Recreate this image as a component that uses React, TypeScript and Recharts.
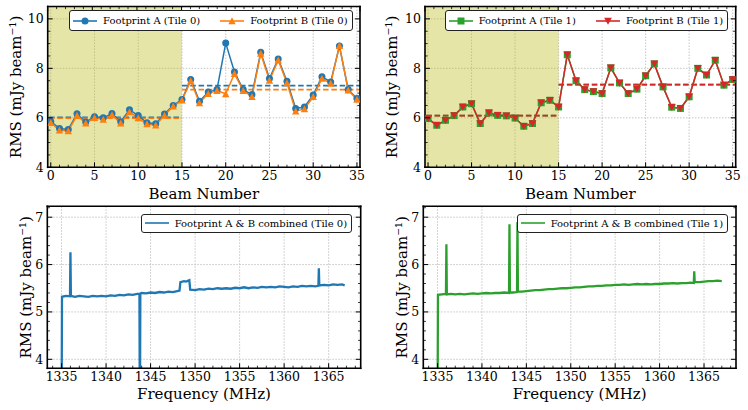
import React from "react";
import { LineChart, Line, XAxis, YAxis, CartesianGrid, ReferenceArea, ReferenceLine, Legend } from "recharts";

// ---- beam panels (top) ----
const beams = [0, 1, 2, 3, 4, 5, 6, 7, 8, 9, 10, 11, 12, 13, 14, 15, 16, 17, 18, 19, 20, 21, 22, 23, 24, 25, 26, 27, 28, 29, 30, 31, 32, 33, 34, 35];
const footprintATile0 = [5.85, 5.57, 5.53, 6.16, 5.83, 6.04, 6.0, 6.17, 5.84, 6.33, 6.09, 5.8, 5.76, 6.15, 6.5, 6.74, 7.55, 6.67, 7.04, 7.14, 9.02, 7.85, 7.14, 6.94, 8.65, 7.59, 8.38, 7.48, 6.38, 6.44, 6.92, 7.66, 7.45, 8.9, 7.14, 6.78];
const footprintBTile0 = [5.8, 5.5, 5.47, 6.1, 5.78, 6.0, 5.93, 6.12, 5.78, 6.24, 5.99, 5.75, 5.7, 6.1, 6.47, 6.71, 7.49, 6.6, 6.98, 7.1, 6.97, 7.78, 7.1, 6.85, 8.6, 7.51, 8.33, 7.41, 6.27, 6.36, 6.85, 7.59, 7.39, 8.92, 7.12, 6.74];
const footprintATile1 = [5.97, 5.7, 5.9, 6.09, 6.44, 6.57, 5.77, 6.2, 6.1, 6.08, 5.99, 5.66, 5.77, 6.61, 6.71, 6.44, 8.55, 7.5, 7.14, 7.06, 6.98, 8.02, 7.41, 6.98, 7.16, 7.7, 8.18, 7.25, 6.43, 6.38, 6.85, 8.0, 7.73, 8.33, 7.32, 7.55];
const footprintBTile1 = [5.97, 5.7, 5.9, 6.09, 6.44, 6.57, 5.77, 6.2, 6.1, 6.08, 5.99, 5.66, 5.77, 6.61, 6.71, 6.44, 8.55, 7.5, 7.14, 7.06, 6.98, 8.02, 7.41, 6.98, 7.16, 7.7, 8.18, 7.25, 6.43, 6.38, 6.85, 8.0, 7.73, 8.33, 7.32, 7.55];
// mean of beams 0-15 and 16-35
const meanATile0 = [6.02, 7.3];
const meanBTile0 = [5.98, 7.14];
const meanATile1 = [6.09, 7.34];
const meanBTile1 = [6.09, 7.34];

const beamMajorTicks = [0, 5, 10, 15, 20, 25, 30, 35];
const beamMinorTicks = beams;
const rmsMajorTicks = [4, 6, 8, 10];
const rmsMinorTicks = [4, 4.5, 5, 5.5, 6, 6.5, 7, 7.5, 8, 8.5, 9, 9.5, 10];

// ---- spectrum panels (bottom) ----
const tile0Freq = [1335.0, 1335.05, 1335.5, 1335.95, 1336.0, 1336.05, 1336.5, 1337.0, 1337.5, 1338.0, 1338.5, 1339.0, 1339.5, 1340.0, 1340.5, 1341.0, 1341.5, 1342.0, 1342.5, 1343.0, 1343.5, 1343.75, 1343.8, 1343.85, 1344.0, 1344.5, 1345.0, 1345.5, 1346.0, 1346.5, 1347.0, 1347.5, 1348.0, 1348.25, 1348.35, 1348.75, 1349.0, 1349.35, 1349.45, 1350.0, 1350.5, 1351.0, 1351.5, 1352.0, 1352.5, 1353.0, 1353.5, 1354.0, 1354.5, 1355.0, 1355.5, 1356.0, 1356.5, 1357.0, 1357.5, 1358.0, 1358.5, 1359.0, 1359.5, 1360.0, 1360.5, 1361.0, 1361.5, 1362.0, 1362.5, 1363.0, 1363.5, 1363.85, 1363.9, 1363.95, 1364.5, 1365.0, 1365.5, 1366.0, 1366.5, 1366.8];
const tile0Rms = [2.5, 5.32, 5.34, 5.33, 6.26, 5.34, 5.32, 5.34, 5.33, 5.32, 5.34, 5.33, 5.34, 5.33, 5.35, 5.34, 5.36, 5.35, 5.37, 5.36, 5.38, 5.38, 2.5, 5.39, 5.4, 5.39, 5.41, 5.4, 5.42, 5.41, 5.43, 5.42, 5.44, 5.45, 5.63, 5.65, 5.64, 5.67, 5.47, 5.46, 5.48, 5.47, 5.49, 5.48, 5.5, 5.49, 5.5, 5.49, 5.51, 5.5, 5.52, 5.5, 5.52, 5.51, 5.53, 5.52, 5.53, 5.52, 5.54, 5.53, 5.52, 5.54, 5.53, 5.55, 5.54, 5.55, 5.54, 5.55, 5.92, 5.56, 5.57, 5.56, 5.58, 5.57, 5.58, 5.56];
const tile1Freq = [1335.0, 1335.05, 1335.5, 1335.95, 1336.0, 1336.05, 1336.5, 1337.0, 1337.5, 1338.0, 1338.5, 1339.0, 1339.5, 1340.0, 1340.5, 1341.0, 1341.5, 1342.0, 1342.5, 1343.05, 1343.1, 1343.15, 1343.5, 1343.95, 1344.0, 1344.05, 1344.5, 1345.0, 1345.5, 1346.0, 1346.5, 1347.0, 1347.5, 1348.0, 1348.5, 1349.0, 1349.5, 1350.0, 1350.5, 1351.0, 1351.5, 1352.0, 1352.5, 1353.0, 1353.5, 1354.0, 1354.5, 1355.0, 1355.5, 1356.0, 1356.5, 1357.0, 1357.5, 1358.0, 1358.5, 1359.0, 1359.5, 1360.0, 1360.5, 1361.0, 1361.5, 1362.0, 1362.5, 1363.0, 1363.5, 1363.85, 1363.9, 1363.95, 1364.5, 1365.0, 1365.5, 1366.0, 1366.5, 1367.0];
const tile1Rms = [2.5, 5.36, 5.37, 5.38, 6.43, 5.37, 5.38, 5.37, 5.38, 5.37, 5.38, 5.39, 5.38, 5.39, 5.4, 5.39, 5.4, 5.4, 5.41, 5.4, 6.85, 5.41, 5.41, 5.42, 6.9, 5.43, 5.43, 5.44, 5.45, 5.46, 5.46, 5.47, 5.48, 5.48, 5.49, 5.5, 5.5, 5.51, 5.52, 5.52, 5.53, 5.54, 5.54, 5.55, 5.55, 5.56, 5.56, 5.57, 5.57, 5.58, 5.57, 5.58, 5.59, 5.58, 5.59, 5.58, 5.59, 5.59, 5.6, 5.6, 5.61, 5.6, 5.61, 5.61, 5.62, 5.61, 5.86, 5.63, 5.63, 5.64, 5.65, 5.65, 5.66, 5.65];

const freqMajorTicks = [1335, 1340, 1345, 1350, 1355, 1360, 1365];
const freqMinorTicks = [1334, 1335, 1336, 1337, 1338, 1339, 1340, 1341, 1342, 1343, 1344, 1345, 1346, 1347, 1348, 1349, 1350, 1351, 1352, 1353, 1354, 1355, 1356, 1357, 1358, 1359, 1360, 1361, 1362, 1363, 1364, 1365, 1366, 1367, 1368];
const specMajorTicks = [4, 5, 6, 7];
const specMinorTicks = [4, 4.2, 4.4, 4.6, 4.8, 5, 5.2, 5.4, 5.6, 5.8, 6, 6.2, 6.4, 6.6, 6.8, 7, 7.2];

const FONT = "'DejaVu Serif', serif";
const Y_TITLE = "RMS (mJy beam\u207B\u00B9)";
const BLUE = "#1f77b4";
const ORANGE = "#ff7f0e";
const GREEN = "#2ca02c";
const RED = "#d62728";

type Marker = (cx: number, cy: number, color: string, key?: any) => React.ReactElement;
const circle: Marker = (cx, cy, c, key) => <circle key={key} cx={cx} cy={cy} r={3.5} fill={c} />;
const triUp: Marker = (cx, cy, c, key) => (
  <path key={key} d={`M${cx},${cy - 3.7}L${cx + 3.7},${cy + 3.3}L${cx - 3.7},${cy + 3.3}Z`} fill={c} />
);
const triDown: Marker = (cx, cy, c, key) => (
  <path key={key} d={`M${cx},${cy + 3.7}L${cx + 3.9},${cy - 3.3}L${cx - 3.9},${cy - 3.3}Z`} fill={c} />
);
const square: Marker = (cx, cy, c, key) => <rect key={key} x={cx - 3.5} y={cy - 3.5} width={7} height={7} fill={c} />;

const dotOf = (m: Marker, color: string) => (p: any) => m(p.cx, p.cy, color, p.index);

type Side = "bottom" | "top" | "left" | "right";
const makeTick = (side: Side, majors: number[], showLabel: boolean, labelGap: number) => (p: any) => {
  const { x, y, payload } = p;
  const v = payload.value;
  const major = majors.includes(v);
  const len = major ? 5 : 2.6;
  let line;
  if (side === "bottom") line = <line x1={x} x2={x} y1={y} y2={y - len} />;
  else if (side === "top") line = <line x1={x} x2={x} y1={y} y2={y + len} />;
  else if (side === "left") line = <line x1={x} x2={x + len} y1={y} y2={y} />;
  else line = <line x1={x} x2={x - len} y1={y} y2={y} />;
  return (
    <g stroke="#000" strokeWidth={major ? 1 : 0.8}>
      {line}
      {showLabel && major && side === "bottom" && (
        <text x={x} y={y + labelGap} textAnchor="middle" stroke="none" fill="#000" fontFamily={FONT} fontSize={12.5}>
          {v}
        </text>
      )}
      {showLabel && major && side === "left" && (
        <text x={x - labelGap} y={y} dy="0.36em" textAnchor="end" stroke="none" fill="#000" fontFamily={FONT} fontSize={12.5}>
          {v}
        </text>
      )}
    </g>
  );
};

// axis titles, placed relative to the plot edge reported by the axis
const xTitle = (text: string, dy: number) => (p: any) => {
  const vb = p.viewBox;
  return (
    <text x={vb.x + vb.width / 2} y={vb.y + dy} textAnchor="middle" fill="#000" fontFamily={FONT} fontSize={15}>
      {text}
    </text>
  );
};

const yTitle = (dx: number) => (p: any) => {
  const vb = p.viewBox;
  const cx = vb.x + vb.width - dx;
  const cy = vb.y + vb.height / 2;
  return (
    <text x={cx} y={cy} transform={`rotate(-90 ${cx} ${cy})`} textAnchor="middle" dy="0.36em" fill="#000" fontFamily={FONT} fontSize={15}>
      {Y_TITLE}
    </text>
  );
};

interface LegendEntry {
  label: string;
  color: string;
  marker?: Marker;
}

function LegendBox({ entries, height }: { entries: LegendEntry[]; height: number }) {
  return (
    <div
      style={{
        display: "inline-flex",
        alignItems: "center",
        boxSizing: "border-box",
        height,
        padding: "0 4px 0 3px",
        background: "#fff",
        border: "1px solid #222",
        borderRadius: 3,
        fontFamily: FONT,
        fontSize: 10,
        color: "#000",
        whiteSpace: "nowrap",
      }}
    >
      {entries.map((e, i) => (
        <div key={e.label} style={{ display: "flex", alignItems: "center", marginLeft: i ? 20 : 0 }}>
          <svg width={24} height={10} style={{ display: "block" }}>
            <line x1={0} x2={24} y1={5} y2={5} stroke={e.color} strokeWidth={1.6} />
            {e.marker && e.marker(12, 5, e.color)}
          </svg>
          <span style={{ marginLeft: 6 }}>{e.label}</span>
        </div>
      ))}
    </div>
  );
}

const spine = { stroke: "#000", strokeWidth: 1.6, strokeLinecap: "square" as const };
// every axis gets 1px of size (recharts skips a 0-sized axis), margins below are reduced by it
const AX = 1;

interface BeamPanelProps {
  a: number[];
  b: number[];
  meanA: number[];
  meanB: number[];
  colorA: string;
  colorB: string;
  markerA: Marker;
  markerB: Marker;
  labelA: string;
  labelB: string;
  margin: { top: number; right: number; bottom: number; left: number };
  titleDx: number;
  legendLeft: number;
}

function BeamPanel(props: BeamPanelProps) {
  const { a, b, meanA, meanB, colorA, colorB, markerA, markerB, margin } = props;
  const rows = beams.map((beam, i) => ({ beam, a: a[i], b: b[i] }));
  const xDomain = [-0.35, 35.35];
  const yDomain = [4, 10.5];
  const m = { top: margin.top - AX, right: margin.right - AX, bottom: margin.bottom - AX, left: margin.left - AX };
  return (
    <LineChart width={374} height={208} data={rows} margin={m}>
      <XAxis xAxisId="g" type="number" dataKey="beam" domain={xDomain} ticks={beamMajorTicks} allowDataOverflow hide />
      <YAxis yAxisId="g" type="number" domain={yDomain} ticks={rmsMajorTicks} allowDataOverflow hide />
      <CartesianGrid xAxisId="g" yAxisId="g" stroke="#b8b8b8" strokeDasharray="1.5 1.5" strokeWidth={0.8} />
      <ReferenceArea x1={-0.35} x2={15} y1={4} y2={10.5} fill="#bcbd22" fillOpacity={0.4} stroke="none" />
      <XAxis
        dataKey="beam"
        type="number"
        domain={xDomain}
        allowDataOverflow
        ticks={beamMinorTicks}
        interval={0}
        height={AX}
        tickSize={0}
        tickMargin={0}
        tickLine={false}
        axisLine={spine}
        tick={makeTick("bottom", beamMajorTicks, true, 12.5)}
        label={xTitle("Beam Number", 31.5)}
      />
      <XAxis
        xAxisId="top"
        orientation="top"
        type="number"
        domain={xDomain}
        allowDataOverflow
        ticks={beamMinorTicks}
        interval={0}
        height={AX}
        tickSize={0}
        tickMargin={0}
        tickLine={false}
        axisLine={spine}
        tick={makeTick("top", beamMajorTicks, false, 0)}
      />
      <YAxis
        type="number"
        domain={yDomain}
        allowDataOverflow
        ticks={rmsMinorTicks}
        interval={0}
        width={AX}
        tickSize={0}
        tickMargin={0}
        tickLine={false}
        axisLine={spine}
        tick={makeTick("left", rmsMajorTicks, true, 4)}
        label={yTitle(props.titleDx)}
      />
      <YAxis
        yAxisId="right"
        orientation="right"
        type="number"
        domain={yDomain}
        allowDataOverflow
        ticks={rmsMinorTicks}
        interval={0}
        width={AX}
        tickSize={0}
        tickMargin={0}
        tickLine={false}
        axisLine={spine}
        tick={makeTick("right", rmsMajorTicks, false, 0)}
      />
      <ReferenceLine segment={[{ x: -0.2, y: meanA[0] }, { x: 15, y: meanA[0] }]} stroke={colorA} strokeWidth={1.6} strokeDasharray="5.5 2.8" />
      <ReferenceLine segment={[{ x: -0.2, y: meanB[0] }, { x: 15, y: meanB[0] }]} stroke={colorB} strokeWidth={1.6} strokeDasharray="5.5 2.8" />
      <ReferenceLine segment={[{ x: 15, y: meanA[1] }, { x: 35.35, y: meanA[1] }]} stroke={colorA} strokeWidth={1.6} strokeDasharray="5.5 2.8" />
      <ReferenceLine segment={[{ x: 15, y: meanB[1] }, { x: 35.35, y: meanB[1] }]} stroke={colorB} strokeWidth={1.6} strokeDasharray="5.5 2.8" />
      <Line dataKey="a" stroke={colorA} strokeWidth={1.5} dot={dotOf(markerA, colorA)} activeDot={false} isAnimationActive={false} />
      <Line dataKey="b" stroke={colorB} strokeWidth={1.5} dot={dotOf(markerB, colorB)} activeDot={false} isAnimationActive={false} />
      <Legend
        layout="horizontal"
        verticalAlign="middle"
        align="center"
        wrapperStyle={{ left: props.legendLeft, top: 10, width: "auto", height: "auto" }}
        content={() => (
          <LegendBox
            height={21}
            entries={[
              { label: props.labelA, color: colorA, marker: markerA },
              { label: props.labelB, color: colorB, marker: markerB },
            ]}
          />
        )}
      />
    </LineChart>
  );
}

interface SpecPanelProps {
  freq: number[];
  rms: number[];
  color: string;
  label: string;
  margin: { top: number; right: number; bottom: number; left: number };
  legendLeft: number;
}

function SpecPanel(props: SpecPanelProps) {
  const { freq, rms, color, margin } = props;
  const rows = freq.map((f, i) => ({ freq: f, rms: rms[i] }));
  const xDomain = [1333.4, 1368.6];
  const yDomain = [3.81, 7.23];
  const m = { top: margin.top - AX, right: margin.right - AX, bottom: margin.bottom - AX, left: margin.left - AX };
  return (
    <LineChart width={374} height={210} data={rows} margin={m}>
      <XAxis xAxisId="g" type="number" dataKey="freq" domain={xDomain} ticks={freqMajorTicks} allowDataOverflow hide />
      <YAxis yAxisId="g" type="number" domain={yDomain} ticks={specMajorTicks} allowDataOverflow hide />
      <CartesianGrid xAxisId="g" yAxisId="g" stroke="#b8b8b8" strokeDasharray="1.5 1.5" strokeWidth={0.8} />
      <XAxis
        dataKey="freq"
        type="number"
        domain={xDomain}
        allowDataOverflow
        ticks={freqMinorTicks}
        interval={0}
        height={AX}
        tickSize={0}
        tickMargin={0}
        tickLine={false}
        axisLine={spine}
        tick={makeTick("bottom", freqMajorTicks, true, 13)}
        label={xTitle("Frequency (MHz)", 30.7)}
      />
      <XAxis
        xAxisId="top"
        orientation="top"
        type="number"
        domain={xDomain}
        allowDataOverflow
        ticks={freqMinorTicks}
        interval={0}
        height={AX}
        tickSize={0}
        tickMargin={0}
        tickLine={false}
        axisLine={spine}
        tick={makeTick("top", freqMajorTicks, false, 0)}
      />
      <YAxis
        type="number"
        domain={yDomain}
        allowDataOverflow
        ticks={specMinorTicks}
        interval={0}
        width={AX}
        tickSize={0}
        tickMargin={0}
        tickLine={false}
        axisLine={spine}
        tick={makeTick("left", specMajorTicks, true, 4)}
        label={yTitle(22)}
      />
      <YAxis
        yAxisId="right"
        orientation="right"
        type="number"
        domain={yDomain}
        allowDataOverflow
        ticks={specMinorTicks}
        interval={0}
        width={AX}
        tickSize={0}
        tickMargin={0}
        tickLine={false}
        axisLine={spine}
        tick={makeTick("right", specMajorTicks, false, 0)}
      />
      <Line dataKey="rms" stroke={color} strokeWidth={2.3} dot={false} activeDot={false} isAnimationActive={false} />
      <Legend
        layout="horizontal"
        verticalAlign="middle"
        align="center"
        wrapperStyle={{ left: props.legendLeft, top: 13.3, width: "auto", height: "auto" }}
        content={() => <LegendBox height={18.5} entries={[{ label: props.label, color }]} />}
      />
    </LineChart>
  );
}

export default function App() {
  return (
    <div style={{ position: "relative", width: 748, height: 410, background: "#fff", fontFamily: FONT }}>
      <style>{"body{margin:0}"}</style>
      <div style={{ position: "absolute", left: 0, top: 200 }}>
        <SpecPanel
          freq={tile0Freq}
          rms={tile0Rms}
          color={BLUE}
          label="Footprint A & B combined (Tile 0)"
          margin={{ top: 6.3, right: 13.3, bottom: 41.7, left: 47.3 }}
          legendLeft={140.7}
        />
      </div>
      <div style={{ position: "absolute", left: 374, top: 200 }}>
        <SpecPanel
          freq={tile1Freq}
          rms={tile1Rms}
          color={GREEN}
          label="Footprint A & B combined (Tile 1)"
          margin={{ top: 6.3, right: 12, bottom: 41.7, left: 49.3 }}
          legendLeft={142.7}
        />
      </div>
      <div style={{ position: "absolute", left: 0, top: 0 }}>
        <BeamPanel
          a={footprintATile0}
          b={footprintBTile0}
          meanA={meanATile0}
          meanB={meanBTile0}
          colorA={BLUE}
          colorB={ORANGE}
          markerA={circle}
          markerB={triUp}
          labelA="Footprint A (Tile 0)"
          labelB="Footprint B (Tile 0)"
          margin={{ top: 6.5, right: 14, bottom: 40.7, left: 47.7 }}
          titleDx={32.2}
          legendLeft={69}
        />
      </div>
      <div style={{ position: "absolute", left: 374, top: 0 }}>
        <BeamPanel
          a={footprintATile1}
          b={footprintBTile1}
          meanA={meanATile1}
          meanB={meanBTile1}
          colorA={GREEN}
          colorB={RED}
          markerA={square}
          markerB={triDown}
          labelA="Footprint A (Tile 1)"
          labelB="Footprint B (Tile 1)"
          margin={{ top: 6.5, right: 12.3, bottom: 40.7, left: 51 }}
          titleDx={33.5}
          legendLeft={70.7}
        />
      </div>
    </div>
  );
}
